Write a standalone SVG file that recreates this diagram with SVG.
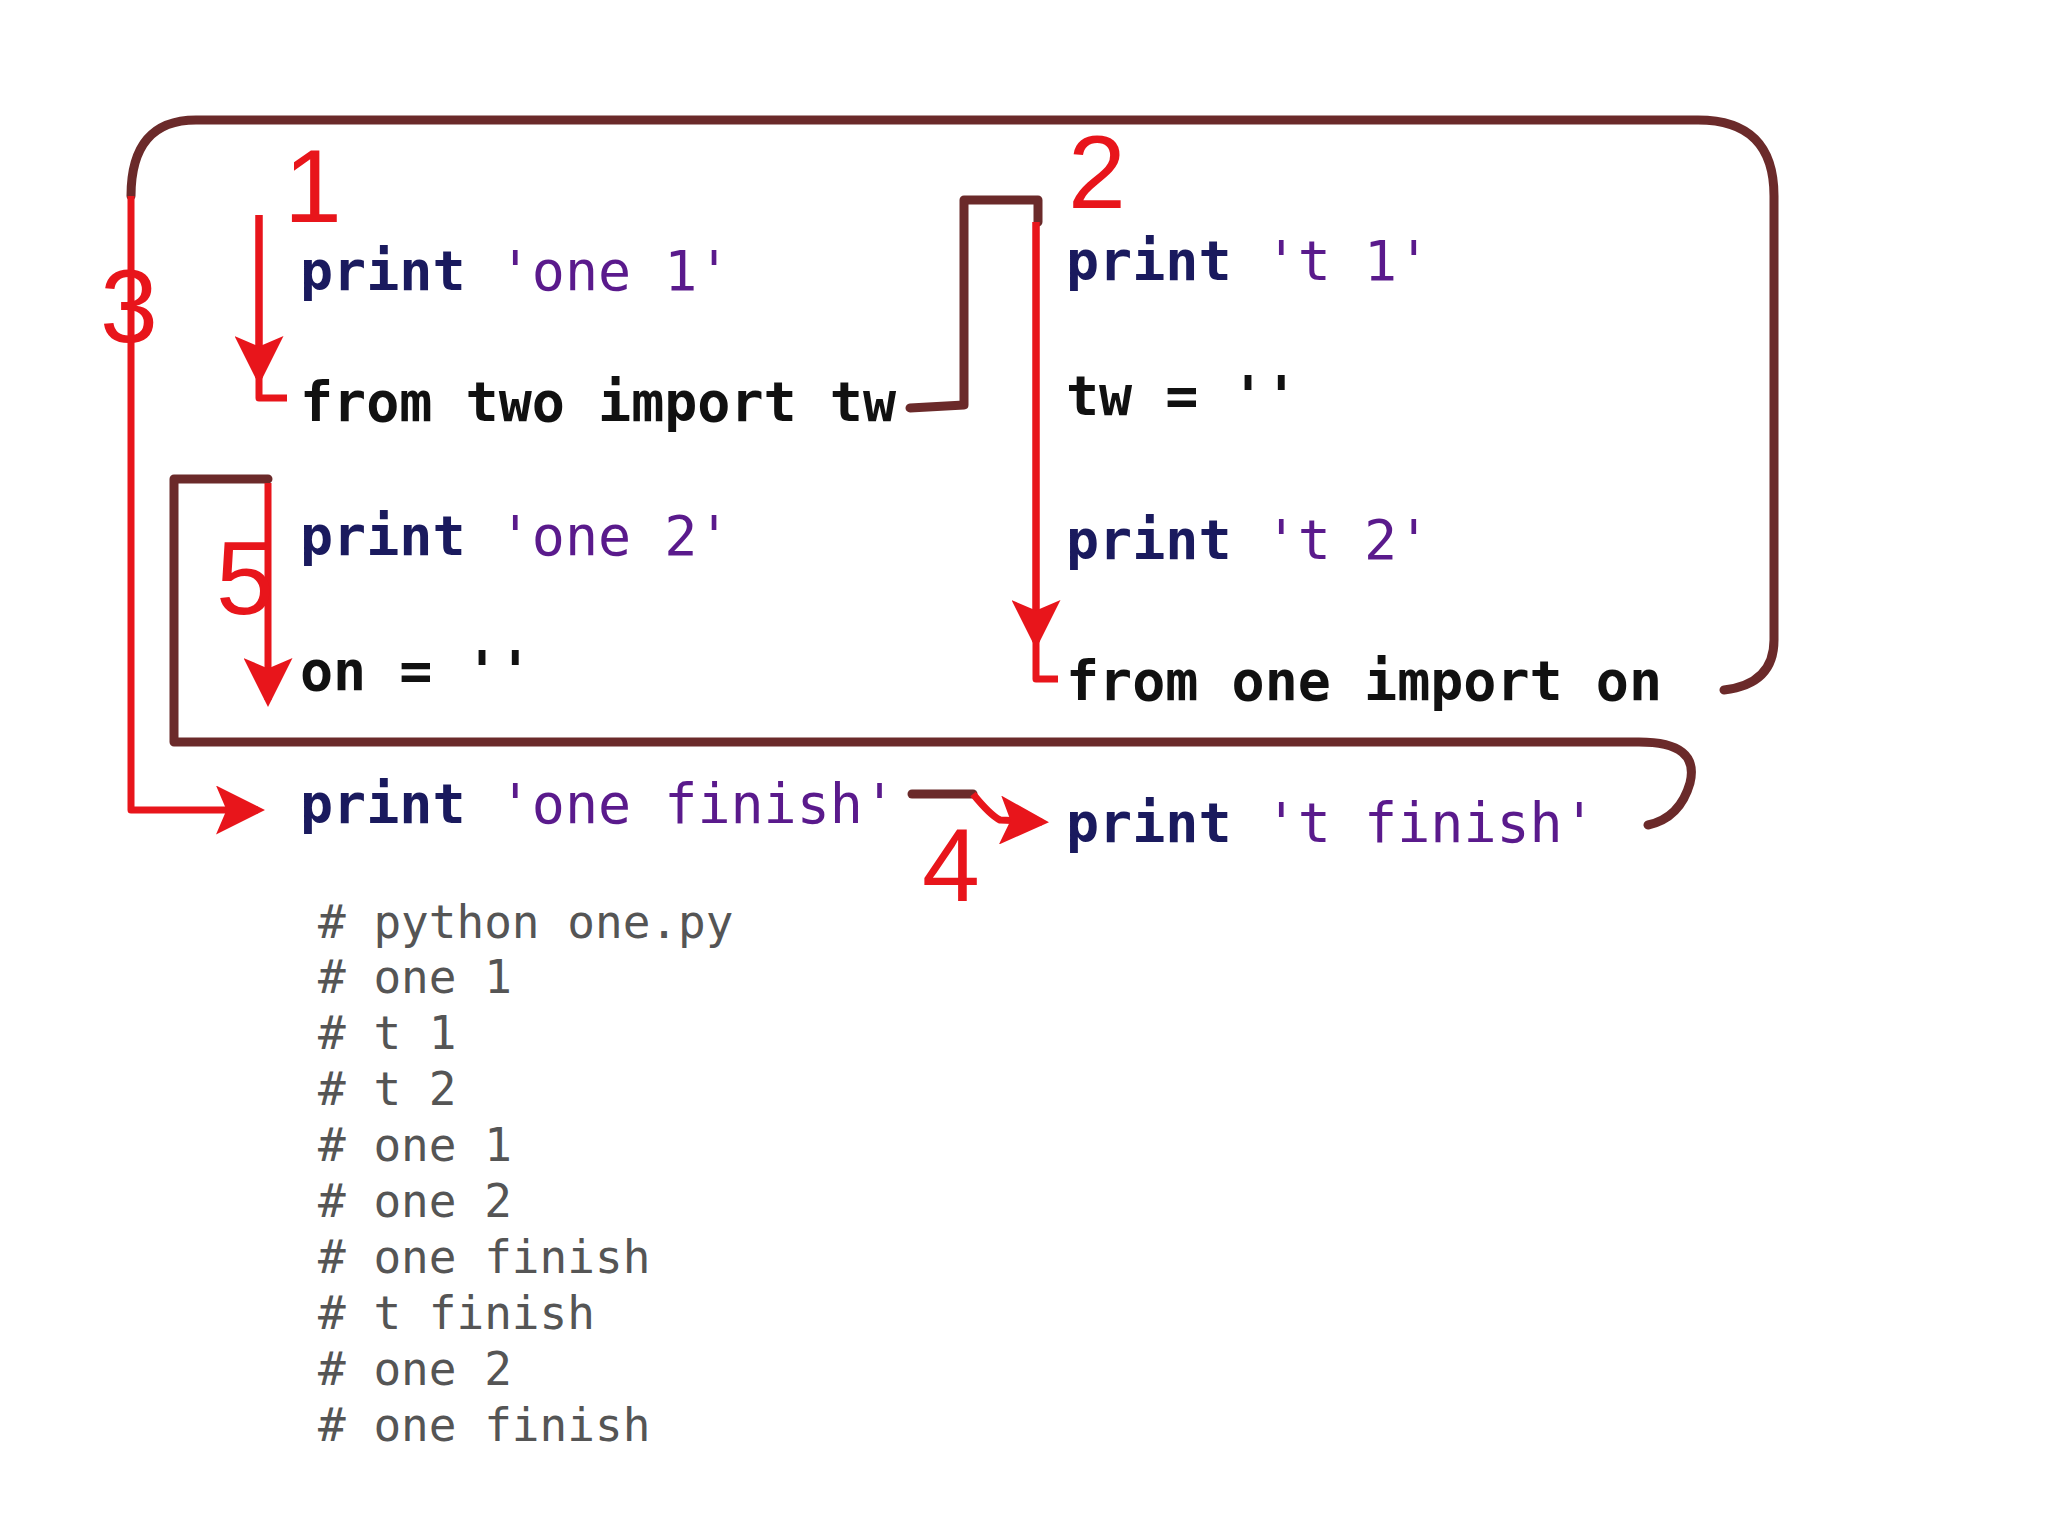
<svg xmlns="http://www.w3.org/2000/svg" width="2048" height="1536" viewBox="0 0 2048 1536">
<style>
.c{font-family:"DejaVu Sans Mono","Liberation Mono",monospace;font-size:55px}
.k{fill:#1a1a5e;font-weight:bold}
.s{fill:#5a1a8c}
.b{fill:#111;font-weight:bold}
.cm{font-family:"DejaVu Sans Mono","Liberation Mono",monospace;font-size:46px;fill:#555}
.n{font-family:"Liberation Sans",Arial,sans-serif;font-size:104px;fill:#e8151b}
.d{fill:none;stroke:#6b2a2a;stroke-width:9;stroke-linecap:round;stroke-linejoin:round}
.r{fill:none;stroke:#e8151b;stroke-width:7;stroke-linejoin:round}
</style>
<defs>
<marker id="ah" markerWidth="7" markerHeight="7" refX="6" refY="3.5" orient="auto" markerUnits="strokeWidth">
<path d="M0,0 L7,3.5 L0,7 L1.5,3.5 Z" fill="#e8151b"/>
</marker>
</defs>
<rect width="2048" height="1536" fill="#fff"/>
<g id="connectors">
<path class="d" d="M131,196 Q131,120 196,120 L1698,120 Q1774,120 1774,196 L1774,640 Q1774,684 1724,690"/>
<path class="d" d="M910,408 L964,405 L964,200 L1038,200 L1038,222"/>
<path class="d" d="M268,479 L174,479 L174,742 L1639,742 Q1700,742 1690,783 Q1680,818 1648,825"/>
<path class="d" d="M912,794 L973,794"/>
<path class="r" d="M259,215 L259,398 L287,398"/>
<path class="r" d="M259,215 L259,378" marker-end="url(#ah)"/>
<path class="r" d="M1036,222 L1036,679 L1058,679"/>
<path class="r" d="M1036,222 L1036,642" marker-end="url(#ah)"/>
<path class="r" d="M131,196 L131,810 L258,810" marker-end="url(#ah)"/>
<path class="r" d="M268,483 L268,700" marker-end="url(#ah)"/>
<path class="r" d="M973,794 Q990,815 1000,820 L1042,822" marker-end="url(#ah)"/>
</g>
<g id="labels">
<text class="n" x="284" y="222">1</text>
<text class="n" x="1068" y="208">2</text>
<text class="n" x="100" y="342">3</text>
<text class="n" x="216" y="614">5</text>
<text class="n" x="922" y="901">4</text>
</g>
<g id="one" class="c">
<text x="300" y="290"><tspan class="k">print</tspan> <tspan class="s">'one 1'</tspan></text>
<text x="300" y="421" class="b">from two import tw</text>
<text x="300" y="555"><tspan class="k">print</tspan> <tspan class="s">'one 2'</tspan></text>
<text x="300" y="690" class="b">on = ''</text>
<text x="300" y="823"><tspan class="k">print</tspan> <tspan class="s">'one finish'</tspan></text>
</g>
<g id="two" class="c">
<text x="1066" y="280"><tspan class="k">print</tspan> <tspan class="s">'t 1'</tspan></text>
<text x="1066" y="415" class="b">tw = ''</text>
<text x="1066" y="559"><tspan class="k">print</tspan> <tspan class="s">'t 2'</tspan></text>
<text x="1066" y="700" class="b">from one import on</text>
<text x="1066" y="842"><tspan class="k">print</tspan> <tspan class="s">'t finish'</tspan></text>
</g>
<g id="output" class="cm">
<text x="318" y="938"># python one.py</text>
<text x="318" y="993"># one 1</text>
<text x="318" y="1049"># t 1</text>
<text x="318" y="1105"># t 2</text>
<text x="318" y="1161"># one 1</text>
<text x="318" y="1217"># one 2</text>
<text x="318" y="1273"># one finish</text>
<text x="318" y="1329"># t finish</text>
<text x="318" y="1385"># one 2</text>
<text x="318" y="1441"># one finish</text>
</g>
</svg>
